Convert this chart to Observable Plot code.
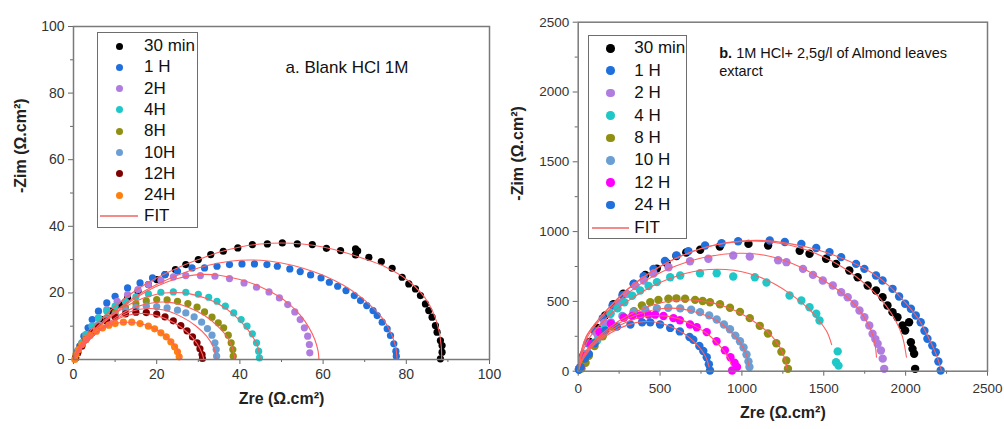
<!DOCTYPE html>
<html>
<head>
<meta charset="utf-8">
<script src="https://cdn.jsdelivr.net/npm/d3@7"></script>
<script src="https://cdn.jsdelivr.net/npm/@observablehq/plot@0.6"></script>
<style>
  html, body { margin: 0; padding: 0; background: #fff; }
  body { font-family: "Liberation Sans", Arial, sans-serif; }
  #wrap { position: relative; width: 1004px; height: 429px; overflow: hidden; }
  .panel { position: absolute; top: 0; }
  .legend { position: absolute; border: 1.5px solid #6e6e6e; background: #fff; box-sizing: border-box; }
  .legend .item { position: absolute; font-size: 17px; color: #111; white-space: nowrap; line-height: 1; }
  .legend .mk { position: absolute; border-radius: 50%; }
  .legend .ln { position: absolute; height: 2px; background: #f58a8a; }
</style>
</head>
<body>
<div id="wrap"></div>
<script>
// ---------------- Panel a : Blank HCl 1M ----------------
const seriesA = ["30 min", "1 H", "2H", "4H", "8H", "10H", "12H", "24H"];
const colorsA = ["#000000", "#1f6fdc", "#b07ce0", "#1fc8c8", "#8f8f12", "#6b9fd4", "#7f0000", "#ff7f0e"];
const ticksA_major = [0, 20, 40, 60, 80, 100];
const ticksA_minor = [10, 30, 50, 70, 90];

const a_30min = [[0.5,0.5],[1,2],[2,4.5],[3.5,7],[5,9.5],[7,12],[9,14.5],[11,16.5],[13,18.5],[15.5,20.5],[18,22.5],[20,24],[22,25.5],[24.5,27],[27,28.5],[30,30],[33,31.5],[36,32.5],[39.5,33.5],[43,34.5],[46.6,34.7],[50.2,35],[53.8,34.7],[57.4,34.5],[60.8,33.4],[64.2,32.7],[67.8,33.2],[68.3,32.6],[67.8,31.4],[71,30.7],[74,29.4],[76.6,27.4],[79,24.7],[80.6,22.7],[82.2,21.2],[83.4,19.2],[84.6,16.7],[85.4,14.7],[86.2,12.7],[87,10.2],[87.4,8.2],[88.2,5.7],[88.6,4.2],[88.6,2.2],[88.2,0.2]];
const a_1H = [[0.5,0.5],[1,2],[1.5,4],[2.5,7],[3.5,9.5],[4.5,12],[6,14.5],[8,17],[10,19],[13,21.5],[16,23],[19,24.5],[22,25.5],[25,26.5],[28.5,27.5],[31.5,27.5],[34.5,28],[37.5,28.5],[40.5,28.7],[43.5,28.7],[46.5,28.5],[49,28],[52,27.2],[54.5,26.4],[57,25.4],[59.5,24.5],[61.5,23.2],[63.5,22],[65.5,20.7],[67.5,19.2],[69,17.7],[70.5,16.2],[72,14.7],[73,13.2],[74.2,11.2],[75.4,9.2],[76.2,7.2],[77,4.7],[77.5,2.5],[77.6,1]];
const a_2H = [[0.5,0.5],[1,2.5],[2,5],[3,7.5],[4.5,10],[6,12.5],[8,15],[10.5,17.5],[13,19.5],[15.5,21],[18,22.5],[21,23.8],[24,24.8],[27,25.2],[30.5,25.2],[34,25],[37.5,24.3],[41,23],[44,21.7],[47,20.3],[49.5,18.5],[51.5,16.5],[53.2,14.3],[54.5,12],[55.5,9.5],[56.3,7],[56.7,4.5],[56.8,2]];
const a_4H = [[0.5,0.5],[1,2.5],[2,5],[3,7.5],[4.5,10],[6,12.5],[8,14.5],[10,16],[12.5,17.5],[15,18.8],[18,19.7],[21,20.2],[24,20.3],[27,20.2],[30,19.6],[32.5,18.7],[34.5,17.5],[36.5,16],[38.5,14],[40.3,12],[41.7,10],[43,7.7],[44,5],[44.5,2.5],[44.7,0.5]];
const a_8H = [[0.5,0.5],[1,2.5],[2,4.5],[3,6.5],[4.5,8.5],[6,10.5],[8,12.5],[10,14],[12.5,15.5],[15,16.8],[17.5,17.6],[20,18],[22.5,17.9],[25,17.5],[27.5,16.8],[29.7,15.7],[31.5,14.3],[33.3,12.7],[34.8,11],[36.1,9.5],[37.2,7.3],[37.9,5],[38.3,3],[38.4,1]];
const a_10H = [[0.5,0.5],[1,2.5],[2,4.5],[3,6.5],[4.5,8.5],[6,10.3],[8,12],[10,13.4],[12.5,14.8],[15,15.6],[17.5,16],[20,15.9],[22.5,15.5],[25,14.8],[27,14],[29,12.8],[30.8,11.2],[32.2,9.3],[33.3,7.3],[34,5],[34.3,3],[34.4,1]];
const a_12H = [[0.5,0.5],[1,2],[2,4],[3,6],[4.5,8],[6,9.8],[8,11.5],[10,12.7],[12.5,13.7],[15,14.2],[17.5,14.1],[20,13.6],[22,12.8],[24,11.6],[25.8,10.2],[27.3,8.6],[28.6,6.8],[29.7,5],[30.4,3.2],[30.9,1.5],[31,0.3]];
const a_24H = [[0.3,0],[0.6,1.5],[1.2,3],[2,4.5],[3,6],[4,7.2],[5.5,8.5],[7,9.5],[8.5,10.3],[10,10.8],[12,11.2],[14,11.2],[16,10.8],[18,10],[19.5,9.2],[21,8],[22.3,6.8],[23.4,5.3],[24.3,3.8],[25,2.3],[25.4,0.8]];

const fitA_30min = [[0,0],[1,3],[2,5],[5,10],[10,16],[15,20.8],[20,24.5],[25,27.5],[30,30],[35,32.2],[40,33.8],[45,34.7],[50,35],[55,34.7],[60,33.8],[65,32.2],[70,30.2],[75,27.8],[79,25],[82,22],[84.5,18.5],[86.5,14],[87.8,9],[88.4,4],[88.5,0]];
const fitA_1H = [[0,0],[1,2.5],[2,4.5],[5,9],[10,14.5],[15,19],[20,22.5],[25,25.3],[30,27.5],[35,29],[40,29.8],[45,29.8],[50,29],[55,27.5],[60,25.3],[65,22.2],[69,18.8],[72,15.5],[74.5,12],[76.3,8],[77.4,4],[77.8,0]];
const fitA_2H = [[0,0],[1,2],[2,4],[5,8.5],[10,14],[15,18.5],[20,22],[25,24.3],[30,25.5],[35,25.3],[40,24],[45,21.8],[49,19.2],[52,16.5],[54.5,13.3],[56.5,9.8],[58,6],[58.8,2.5],[59,0]];
const fitA_4H = [[0,0],[1,2],[2,4],[5,8.5],[10,13.8],[15,17.5],[20,19.6],[24,20.1],[28,19.7],[32,18.3],[35.5,16.2],[38.5,13.5],[41,10.3],[43,7],[44.3,3.8],[44.9,0]];
const fitA_8H = [[0,0],[1,1.8],[2,3.5],[5,7.5],[10,12.5],[15,15.8],[20,17.2],[24,17],[28,15.5],[31.5,13.2],[34.5,10.2],[36.8,7],[38.2,3.5],[38.8,0]];
const fitA_10H = [[0,0],[1,1.8],[2,3.5],[5,7.5],[10,12],[14,14.5],[18,15.3],[22,14.8],[26,12.8],[29.5,10],[32,7],[33.7,3.5],[34.3,0]];
const fitA_12H = [[0,0],[1,1.8],[2,3.5],[5,7.3],[9,11],[13,13.3],[17,13.8],[21,12.8],[24.5,10.8],[27.5,8],[29.7,4.8],[31,1.5],[31.3,0]];
const fitA_24H = [[0,0],[1,2],[2,3.8],[4,6.5],[7,9.3],[10,10.8],[13,11.2],[16,10.8],[19,9.5],[21.5,7.7],[23.5,5.5],[25,3],[25.8,0]];

// ---------------- Panel b : 1M HCl + 2,5 g/l almond leaves extract ----------------
const seriesB = ["30 min", "1 H", "2 H", "4 H", "8 H", "10 H", "12 H", "24 H"];
const colorsB = ["#000000", "#1f6fdc", "#b07ce0", "#1fc8c8", "#8f8f12", "#6b9fd4", "#ff00ff", "#1f6fdc"];
const ticksB_major = [0, 500, 1000, 1500, 2000, 2500];
const ticksB_minor = [250, 750, 1250, 1750, 2250];

const b_30min = [[5,15],[35,120],[70,210],[115,310],[165,400],[215,480],[275,555],[340,625],[410,690],[480,735],[540,775],[600,825],[660,850],[745,870],[865,893],[1040,912],[1160,900],[1353,863],[1413,841],[1514,805],[1575,769],[1656,721],[1707,673],[1768,614],[1819,578],[1859,530],[1889,471],[1920,423],[1950,387],[1981,327],[1997,291],[2021,351],[2032,208],[2042,160],[2052,125],[2058,17]];
const b_1H = [[5,15],[30,110],[60,200],[100,290],[150,380],[210,470],[270,545],[339,626],[400,680],[460,733],[530,790],[600,830],[673,860],[775,900],[876,917],[977,931],[1170,936],[1262,926],[1363,912],[1454,883],[1535,853],[1606,817],[1697,769],[1748,733],[1819,686],[1859,650],[1920,590],[1960,535],[1997,483],[2032,447],[2062,399],[2092,351],[2115,290],[2133,232],[2163,184],[2184,136],[2200,70],[2214,5]];
const b_2H = [[5,15],[35,100],[75,190],[116,267],[160,345],[197,411],[250,490],[298,554],[350,610],[400,650],[460,700],[552,745],[683,788],[795,805],[947,829],[1048,821],[1221,795],[1272,781],[1373,733],[1434,690],[1494,650],[1555,614],[1606,566],[1646,530],[1687,483],[1718,435],[1748,387],[1778,327],[1798,268],[1815,230],[1829,196],[1849,148],[1860,90],[1869,17]];
const b_4H = [[14,29],[55,112],[116,220],[160,300],[197,411],[240,450],[282,494],[330,540],[379,578],[430,610],[481,638],[562,673],[623,685],[744,702],[846,702],[947,678],[1079,673],[1150,635],[1291,542],[1363,506],[1413,458],[1454,411],[1474,363],[1585,142],[1575,64],[1590,40]];
const b_8H = [[20,20],[45,60],[65,110],[100,180],[150,250],[210,320],[280,385],[340,430],[389,471],[440,495],[490,511],[551,519],[600,522],[653,519],[714,511],[760,503],[805,494],[866,480],[927,455],[988,425],[1048,380],[1109,325],[1159,270],[1210,200],[1241,140],[1271,77],[1281,17]];
const b_10H = [[10,20],[45,124],[90,200],[136,291],[200,350],[270,395],[339,423],[410,440],[481,450],[550,455],[623,450],[690,440],[744,423],[800,400],[846,370],[890,335],[927,300],[960,255],[988,215],[1010,170],[1028,120],[1040,70],[1046,30]];
const b_12H = [[14,29],[40,110],[75,196],[130,280],[200,340],[278,385],[330,395],[379,399],[430,405],[470,405],[521,395],[582,380],[621,365],[683,335],[724,315],[785,280],[845,215],[896,150],[930,100],[955,60],[970,30],[940,5]];
const b_24H = [[5,10],[14,29],[40,90],[65,124],[100,200],[166,291],[237,320],[319,335],[390,350],[440,350],[500,335],[562,310],[621,285],[680,245],[703,225],[740,180],[764,145],[785,100],[798,50],[805,5]];

const fitB_30min = [[0,0],[20,150],[50,250],[100,335],[200,470],[300,585],[400,675],[500,750],[600,810],[700,858],[800,893],[900,917],[1000,930],[1100,932],[1200,922],[1300,900],[1400,866],[1500,818],[1600,755],[1700,675],[1800,575],[1880,470],[1940,360],[1980,250],[2005,100]];
const fitB_1H = [[0,0],[20,150],[50,250],[100,335],[200,470],[300,585],[400,675],[500,750],[600,810],[700,860],[800,895],[900,920],[1000,933],[1100,937],[1200,930],[1300,912],[1400,888],[1500,856],[1600,815],[1700,765],[1800,700],[1900,610],[2000,490],[2080,370],[2140,240],[2190,110],[2220,0]];
const fitB_2H = [[0,0],[20,130],[50,230],[100,320],[200,450],[300,555],[400,640],[500,705],[600,755],[700,795],[800,822],[900,840],[1000,845],[1100,838],[1200,815],[1300,775],[1400,720],[1500,650],[1600,570],[1680,490],[1740,400],[1790,290],[1812,200],[1822,100]];
const fitB_4H = [[0,0],[20,110],[50,200],[100,290],[200,410],[300,500],[400,575],[500,635],[600,680],[700,712],[800,728],[900,728],[1000,712],[1100,678],[1200,625],[1300,550],[1400,455],[1470,365],[1520,280],[1548,190]];
const fitB_8H = [[0,0],[20,80],[50,150],[100,220],[200,320],[300,395],[400,450],[500,488],[600,508],[700,510],[800,495],[900,462],[1000,410],[1100,335],[1180,255],[1230,175],[1262,90],[1275,20]];
const fitB_10H = [[0,0],[20,75],[50,140],[100,210],[200,305],[300,375],[400,420],[500,447],[600,450],[700,430],[800,390],[880,335],[950,260],[1000,185],[1030,110],[1040,40]];
const fitB_12H = [[0,0],[20,70],[50,130],[100,200],[200,290],[300,355],[400,390],[500,398],[600,380],[700,330],[780,275],[850,200],[900,130],[935,50]];
const fitB_24H = [[0,0],[20,65],[50,120],[100,190],[200,275],[300,330],[400,355],[500,345],[600,300],[680,240],[740,170],[780,100],[800,30]];

// ---------------- build ----------------
function rows(names, arrays) {
  const out = [];
  names.forEach((s, i) => arrays[i].forEach(([x, y]) => out.push({series: s, x, y})));
  return out;
}

const FONT = '"Liberation Sans", Arial, sans-serif';
const FIT_COLOR = "#ff5f5f";
const plain = d => String(d);

function makePanel(cfg) {
  const pts = rows(cfg.names, cfg.data);
  const fits = rows(cfg.names, cfg.fits);
  const m = cfg.margin;
  const chart = Plot.plot({
    width: cfg.width, height: 429,
    marginLeft: m.l, marginRight: m.r, marginTop: m.t, marginBottom: m.b,
    x: {domain: cfg.xDomain},
    y: {domain: cfg.yDomain},
    color: {domain: cfg.names, range: cfg.colors},
    style: {fontFamily: FONT, fontSize: "14px", color: "#222", background: "transparent", overflow: "visible"},
    marks: [
      Plot.axisX({ticks: cfg.xMajor, tickSize: 5, tickPadding: cfg.xPad, tickFormat: plain, label: null, stroke: "#666", fill: "#333", fontSize: cfg.tickFont}),
      Plot.axisX({ticks: cfg.xMinor, tickSize: 3, tickFormat: () => "", label: null, stroke: "#666"}),
      Plot.axisY({ticks: cfg.yMajor, tickSize: 5, tickPadding: 4, tickFormat: plain, label: null, stroke: "#666", fill: "#333", fontSize: cfg.tickFont}),
      Plot.axisY({ticks: cfg.yMinor, tickSize: 3, tickFormat: () => "", label: null, stroke: "#666"}),
      Plot.dot(pts, {x: "x", y: "y", fill: "series", r: cfg.r}),
      Plot.line(fits, {x: "x", y: "y", z: "series", stroke: FIT_COLOR, strokeWidth: 1.1, curve: "catmull-rom"}),
      Plot.frame({stroke: "#7a7a7a", strokeWidth: 1.5}),
      Plot.text([cfg.xLabel], {frameAnchor: "bottom", dy: cfg.xLabelDy, fontSize: 16, fontWeight: "bold", fill: "#222"}),
      Plot.text([cfg.yLabel], {frameAnchor: "left", rotate: -90, dx: cfg.yLabelDx, dy: cfg.yLabelDy, fontSize: 16, fontWeight: "bold", fill: "#222"}),
      ...cfg.notes.map(n => Plot.text([n.text], {frameAnchor: "top-left", dx: n.dx, dy: n.dy, textAnchor: "start", lineAnchor: "bottom", fontSize: n.size, fontWeight: n.bold ? "bold" : "normal", fill: "#111"}))
    ]
  });
  const div = document.createElement("div");
  div.className = "panel";
  div.style.left = cfg.left + "px";
  div.appendChild(chart);

  // legend box
  const L = cfg.legend;
  const box = document.createElement("div");
  box.className = "legend";
  Object.assign(box.style, {left: L.x + "px", top: L.y + "px", width: L.w + "px", height: L.h + "px"});
  cfg.names.forEach((s, i) => {
    const cy = L.first + i * L.step - L.y;
    const mk = document.createElement("div");
    mk.className = "mk";
    Object.assign(mk.style, {width: L.d + "px", height: L.d + "px", left: (L.mx - L.x - L.d / 2) + "px", top: (cy - L.d / 2) + "px", background: cfg.colors[i]});
    box.appendChild(mk);
    const t = document.createElement("div");
    t.className = "item";
    t.textContent = s;
    Object.assign(t.style, {left: (L.tx - L.x) + "px", top: (cy - 9) + "px"});
    box.appendChild(t);
  });
  const cyFit = L.first + cfg.names.length * L.step - L.y;
  const ln = document.createElement("div");
  ln.className = "ln";
  Object.assign(ln.style, {left: L.l0 + "px", width: L.lw + "px", top: (cyFit - 1) + "px"});
  box.appendChild(ln);
  const tf = document.createElement("div");
  tf.className = "item";
  tf.textContent = "FIT";
  Object.assign(tf.style, {left: (L.tx - L.x) + "px", top: (cyFit - 9) + "px"});
  box.appendChild(tf);
  div.appendChild(box);
  document.getElementById("wrap").appendChild(div);
}

makePanel({
  left: 0, width: 500,
  margin: {l: 73, r: 11, t: 26, b: 70},
  xDomain: [0, 100], yDomain: [0, 100],
  xMajor: ticksA_major, xMinor: ticksA_minor, yMajor: ticksA_major, yMinor: ticksA_minor,
  xPad: 5, tickFont: 14,
  names: seriesA, colors: colorsA,
  data: [a_30min, a_1H, a_2H, a_4H, a_8H, a_10H, a_12H, a_24H],
  fits: [fitA_30min, fitA_1H, fitA_2H, fitA_4H, fitA_8H, fitA_10H, fitA_12H, fitA_24H],
  r: 3.6,
  xLabel: "Zre (Ω.cm²)", xLabelDy: 44,
  yLabel: "-Zim (Ω.cm²)", yLabelDx: -53, yLabelDy: 0,
  notes: [{text: "a. Blank HCl 1M", dx: 212, dy: 46, size: 17}],
  legend: {x: 97, y: 32, w: 101, h: 196, first: 45, step: 21.3, mx: 118.5, tx: 143, d: 7, l0: 2, lw: 38}
});

makePanel({
  left: 500, width: 504,
  margin: {l: 77.7, r: 17, t: 21.7, b: 58.3},
  xDomain: [0, 2500], yDomain: [0, 2500],
  xMajor: ticksB_major, xMinor: ticksB_minor, yMajor: ticksB_major, yMinor: ticksB_minor,
  xPad: 7, tickFont: 13.5,
  names: seriesB, colors: colorsB,
  data: [b_30min, b_1H, b_2H, b_4H, b_8H, b_10H, b_12H, b_24H],
  fits: [fitB_30min, fitB_1H, fitB_2H, fitB_4H, fitB_8H, fitB_10H, fitB_12H, fitB_24H],
  r: 4.2,
  xLabel: "Zre (Ω.cm²)", xLabelDy: 47,
  yLabel: "-Zim (Ω.cm²)", yLabelDx: -60, yLabelDy: 4,
  notes: [
    {text: "b.", dx: 141, dy: 35.5, size: 14.5, bold: true},
    {text: "1M HCl+ 2,5g/l of Almond leaves", dx: 158, dy: 35.5, size: 14.5},
    {text: "extarct", dx: 141, dy: 54, size: 14.5}
  ],
  legend: {x: 88, y: 35, w: 99, h: 204, first: 47.3, step: 22.4, mx: 109.3, tx: 133.3, d: 8.5, l0: 2.5, lw: 37}
});
</script>
</body>
</html>
